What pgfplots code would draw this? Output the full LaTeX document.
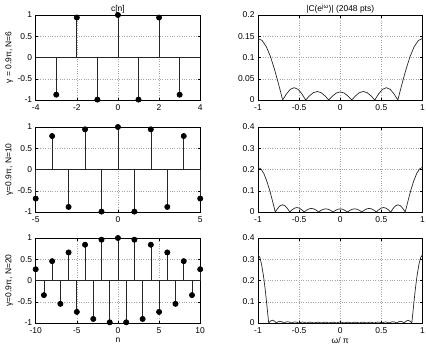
\documentclass[border=0pt]{standalone}
\usepackage{fontspec}
\setmainfont{Liberation Sans}
\usepackage{pgfplots}
\pgfplotsset{compat=1.18}
\begin{document}
\begin{tikzpicture}
\pgfplotsset{
  every axis/.append style={
    scale only axis, width=164.5bp, height=85bp,
    anchor=north west,
    font=\fontsize{8.5}{10}\selectfont,
    /pgf/number format/assume math mode=true,
    /pgf/number format/fixed,
    /pgf/number format/precision=2,
    grid=major,
    major grid style={dotted, gray!70, line width=0.5pt},
    tick align=inside, tick pos=both,
    major tick length=2.5bp,
    axis line style={line width=0.6pt},
    every tick/.style={black, line width=0.5pt},
    every axis y label/.style={at={(axis description cs:-0.16,0.5)}, rotate=90, anchor=center},
    every axis x label/.style={at={(axis description cs:0.5,-0.2)}, anchor=center},
    every axis title/.style={at={(axis description cs:0.5,1)}, anchor=south, inner sep=1.5bp},
    xticklabel style={yshift=-1bp},
  },
  stemstyle/.style={ycomb, black!85, line width=0.7pt, mark=*, mark size=2.6bp, mark options={fill=black, draw=black}},
  magstyle/.style={black!85, line width=0.7pt, mark=none},
}
% ---------- row 1 ----------
\begin{axis}[at={(35.7bp,-15bp)}, xmin=-4, xmax=4, ymin=-1, ymax=1,
  xtick={-4,-2,0,2,4}, ytick={-1,-0.5,0,0.5,1}, clip=false,
  title={c[n]}, ylabel={γ = 0.9π, N=6}]
\addplot[black!85, line width=0.6pt] coordinates {(-4,0) (4,0)};
\addplot[stemstyle] coordinates {(-3,-0.875) (-2,0.94) (-1,-0.99) (0,1) (1,-0.99) (2,0.94) (3,-0.875)};
\end{axis}
\begin{axis}[at={(258bp,-15bp)}, xmin=-1, xmax=1, ymin=0, ymax=0.2,
  xtick={-1,-0.5,0,0.5,1}, ytick={0,0.05,0.1,0.15,0.2},
  title={|C(e\textsuperscript{jω})| (2048 pts)}]
\addplot[magstyle] coordinates {
(-1,0.145) (-0.95,0.140) (-0.90,0.126) (-0.85,0.103) (-0.80,0.0725) (-0.75,0.0375) (-0.70,0)
(-0.653,0.0145) (-0.607,0.0251) (-0.56,0.029) (-0.513,0.0251) (-0.467,0.0145) (-0.42,0)
(-0.373,0.010) (-0.327,0.0173) (-0.28,0.020) (-0.233,0.0173) (-0.187,0.010) (-0.14,0)
(-0.093,0.0095) (-0.047,0.0165) (0,0.019) (0.047,0.0165) (0.093,0.0095) (0.14,0)
(0.187,0.010) (0.233,0.0173) (0.28,0.020) (0.327,0.0173) (0.373,0.010) (0.42,0)
(0.467,0.0145) (0.513,0.0251) (0.56,0.029) (0.607,0.0251) (0.653,0.0145) (0.70,0)
(0.75,0.0375) (0.80,0.0725) (0.85,0.103) (0.90,0.126) (0.95,0.140) (1,0.145)};
\end{axis}
% ---------- row 2 ----------
\begin{axis}[at={(35.7bp,-127bp)}, xmin=-5, xmax=5, ymin=-1, ymax=1,
  xtick={-5,0,5}, ytick={-1,-0.5,0,0.5,1}, clip=false,
  ylabel={γ=0.9π, N=10}]
\addplot[black!85, line width=0.6pt] coordinates {(-5,0) (5,0)};
\addplot[stemstyle] coordinates {(-5,-0.684) (-4,0.787) (-3,-0.881) (-2,0.945) (-1,-0.99) (0,1) (1,-0.99) (2,0.945) (3,-0.881) (4,0.787) (5,-0.684)};
\end{axis}
\begin{axis}[at={(258bp,-127bp)}, xmin=-1, xmax=1, ymin=0, ymax=0.4,
  xtick={-1,-0.5,0,0.5,1}, ytick={0,0.1,0.2,0.3,0.4}]
\addplot[magstyle] coordinates {
(-1,0.21) (-0.965,0.203) (-0.93,0.182) (-0.895,0.148) (-0.86,0.105) (-0.825,0.054) (-0.79,0)
(-0.761,0.017) (-0.731,0.0294) (-0.702,0.034) (-0.673,0.0294) (-0.643,0.017) (-0.614,0)
(-0.585,0.0105) (-0.556,0.0182) (-0.527,0.021) (-0.497,0.0182) (-0.468,0.0105) (-0.439,0)
(-0.410,0.0085) (-0.380,0.0147) (-0.351,0.017) (-0.322,0.0147) (-0.292,0.0085) (-0.263,0)
(-0.234,0.0075) (-0.205,0.013) (-0.176,0.015) (-0.146,0.013) (-0.117,0.0075) (-0.088,0)
(-0.059,0.0075) (-0.029,0.013) (0,0.015) (0.029,0.013) (0.059,0.0075) (0.088,0)
(0.117,0.0075) (0.146,0.013) (0.176,0.015) (0.205,0.013) (0.234,0.0075) (0.263,0)
(0.292,0.0085) (0.322,0.0147) (0.351,0.017) (0.380,0.0147) (0.410,0.0085) (0.439,0)
(0.468,0.0105) (0.497,0.0182) (0.527,0.021) (0.556,0.0182) (0.585,0.0105) (0.614,0)
(0.643,0.017) (0.673,0.0294) (0.702,0.034) (0.731,0.0294) (0.761,0.017) (0.79,0)
(0.825,0.054) (0.86,0.105) (0.895,0.148) (0.93,0.182) (0.965,0.203) (1,0.21)};
\end{axis}
% ---------- row 3 ----------
\begin{axis}[at={(35.7bp,-238bp)}, xmin=-10, xmax=10, ymin=-1, ymax=1,
  xtick={-10,-5,0,5,10}, ytick={-1,-0.5,0,0.5,1}, clip=false,
  ylabel={γ=0.9π, N=20}, xlabel={n}]
\addplot[black!85, line width=0.6pt] coordinates {(-10,0) (10,0)};
\addplot[stemstyle] coordinates {(-10,0.265) (-9,-0.344) (-8,0.455) (-7,-0.549) (-6,0.66) (-5,-0.739) (-4,0.842) (-3,-0.905) (-2,0.96) (-1,-0.984) (0,1) (1,-0.984) (2,0.96) (3,-0.905) (4,0.842) (5,-0.739) (6,0.66) (7,-0.549) (8,0.455) (9,-0.344) (10,0.265)};
\end{axis}
\begin{axis}[at={(258bp,-238bp)}, xmin=-1, xmax=1, ymin=0, ymax=0.4,
  xtick={-1,-0.5,0,0.5,1}, ytick={0,0.1,0.2,0.3,0.4}, xlabel={ω/ π}]
\addplot[magstyle] coordinates {
(-1,0.32) (-0.978,0.309) (-0.957,0.277) (-0.935,0.226) (-0.913,0.16) (-0.892,0.083) (-0.87,0)
(-0.847,0.0092) (-0.824,0.013) (-0.801,0.0092) (-0.778,0)
(-0.755,0.0057) (-0.733,0.008) (-0.710,0.0057) (-0.687,0)
(-0.664,0.0042) (-0.641,0.006) (-0.618,0.0042) (-0.595,0)
(-0.572,0.0035) (-0.549,0.005) (-0.527,0.0035) (-0.504,0)
(-0.481,0.0032) (-0.458,0.0045) (-0.435,0.0032) (-0.412,0)
(-0.389,0.0028) (-0.366,0.004) (-0.343,0.0028) (-0.320,0)
(-0.298,0.0028) (-0.275,0.004) (-0.252,0.0028) (-0.229,0)
(-0.206,0.0028) (-0.183,0.004) (-0.160,0.0028) (-0.137,0)
(-0.114,0.0028) (-0.092,0.004) (-0.069,0.0028) (-0.046,0)
(-0.023,0.0035) (0,0.005) (0.023,0.0035) (0.046,0)
(0.069,0.0028) (0.092,0.004) (0.114,0.0028) (0.137,0)
(0.160,0.0028) (0.183,0.004) (0.206,0.0028) (0.229,0)
(0.252,0.0028) (0.275,0.004) (0.298,0.0028) (0.320,0)
(0.343,0.0028) (0.366,0.004) (0.389,0.0028) (0.412,0)
(0.435,0.0032) (0.458,0.0045) (0.481,0.0032) (0.504,0)
(0.527,0.0035) (0.549,0.005) (0.572,0.0035) (0.595,0)
(0.618,0.0042) (0.641,0.006) (0.664,0.0042) (0.687,0)
(0.710,0.0057) (0.733,0.008) (0.755,0.0057) (0.778,0)
(0.801,0.0092) (0.824,0.013) (0.847,0.0092) (0.87,0)
(0.892,0.083) (0.913,0.16) (0.935,0.226) (0.957,0.277) (0.978,0.309) (1,0.32)};
\end{axis}
\pgfresetboundingbox
\path[use as bounding box] (0,0) rectangle (426bp,-352bp);
\end{tikzpicture}
\end{document}
